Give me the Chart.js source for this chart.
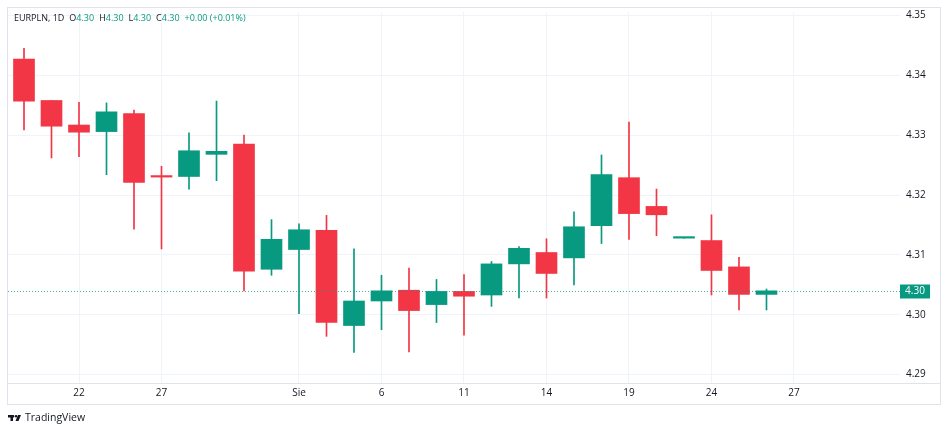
<!DOCTYPE html>
<html>
<head>
<meta charset="utf-8">
<script src="https://cdn.jsdelivr.net/npm/chart.js@4.4.1/dist/chart.umd.min.js"></script>
<style>
  html, body { margin: 0; padding: 0; background: #ffffff; }
  #wrap { width: 948px; height: 430px; }
</style>
</head>
<body>
<div id="wrap"><canvas id="chart" width="948" height="430"></canvas></div>
<script>
// EURPLN 1D candles
const opens  = [4.3427, 4.3358, 4.3317, 4.3306, 4.3336, 4.3232, 4.3231, 4.3268, 4.3285, 4.3076,
                4.3109, 4.3141, 4.2982, 4.3023, 4.3041, 4.3017, 4.3039, 4.3033, 4.3085, 4.3104,
                4.3095, 4.3149, 4.3229, 4.3181, 4.3128, 4.3124, 4.3080, 4.3034];
const highs  = [4.3445, 4.3358, 4.3355, 4.3354, 4.3342, 4.3248, 4.3304, 4.3357, 4.3300, 4.3159,
                4.3152, 4.3166, 4.3110, 4.3066, 4.3078, 4.3059, 4.3067, 4.3089, 4.3114, 4.3127,
                4.3172, 4.3267, 4.3322, 4.3210, 4.3128, 4.3167, 4.3096, 4.3043];
const lows   = [4.3309, 4.3262, 4.3264, 4.3234, 4.3143, 4.3110, 4.3210, 4.3224, 4.3040, 4.3066,
                4.3002, 4.2964, 4.2937, 4.2975, 4.2938, 4.2987, 4.2966, 4.3014, 4.3028, 4.3028,
                4.3050, 4.3119, 4.3126, 4.3132, 4.3128, 4.3033, 4.3008, 4.3008];
const closes = [4.3357, 4.3315, 4.3305, 4.3339, 4.3221, 4.3230, 4.3274, 4.3273, 4.3073, 4.3126,
                4.3142, 4.2987, 4.3023, 4.3040, 4.3007, 4.3039, 4.3031, 4.3085, 4.3111, 4.3069,
                4.3147, 4.3234, 4.3169, 4.3167, 4.3128, 4.3074, 4.3034, 4.3040];

// time axis: candle slot index -> label
const xTickSlots  = [2, 5, 10, 13, 16, 19, 22, 25, 28];
const xTickLabels = ['22', '27', 'Sie', '6', '11', '14', '19', '24', '27'];
const yTicks = [4.29, 4.30, 4.31, 4.32, 4.33, 4.34, 4.35];

const UP = '#089981';
const DOWN = '#F23645';
const TEXT = '#131722';
const FONT = "'Open Sans', 'DejaVu Sans', sans-serif";

const colors = closes.map((c, i) => c >= opens[i] ? UP : DOWN);
const wickData = highs.map((h, i) => ({ x: i, y: [lows[i], h] }));
const bodyData = opens.map((o, i) => ({ x: i, y: [Math.min(o, closes[i]), Math.max(o, closes[i])] }));

const lastClose = closes[closes.length - 1];
const prevClose = closes[closes.length - 2];

const decor = {
  id: 'decor',
  beforeDraw(chart) {
    const ctx = chart.ctx;
    ctx.save();
    ctx.fillStyle = '#ffffff';
    ctx.fillRect(0, 0, chart.width, chart.height);
    ctx.restore();
  },
  afterDatasetsDraw(chart) {
    const ctx = chart.ctx;
    const area = chart.chartArea;
    const y = Math.round(chart.scales.y.getPixelForValue(lastClose)) + 0.5;
    ctx.save();
    ctx.strokeStyle = 'rgba(8, 153, 129, 0.75)';
    ctx.lineWidth = 1;
    ctx.setLineDash([1, 2]);
    ctx.beginPath();
    ctx.moveTo(area.left, y);
    ctx.lineTo(area.right, y);
    ctx.stroke();
    ctx.restore();
  },
  afterDraw(chart) {
    const ctx = chart.ctx;
    const area = chart.chartArea;
    ctx.save();
    // frame and time axis separator
    ctx.strokeStyle = '#e0e3eb';
    ctx.lineWidth = 1;
    ctx.strokeRect(7.5, 7.5, 933, 397);
    ctx.beginPath();
    ctx.moveTo(7.5, area.bottom + 0.5);
    ctx.lineTo(940.5, area.bottom + 0.5);
    ctx.stroke();

    // last price tag
    const y = Math.round(chart.scales.y.getPixelForValue(lastClose)) + 0.5;
    ctx.fillStyle = UP;
    ctx.fillRect(area.right, y - 7, 30, 14);
    ctx.fillStyle = '#ffffff';
    ctx.font = '10px ' + FONT;
    ctx.textAlign = 'center';
    ctx.textBaseline = 'middle';
    ctx.fillText(lastClose.toFixed(2), area.right + 15, y);

    // legend line
    const o = opens[opens.length - 1], h = highs[highs.length - 1];
    const l = lows[lows.length - 1], c = lastClose;
    const chg = c - prevClose;
    const parts = [
      ['EURPLN, 1D', TEXT, 5],
      ['O', TEXT, 0], [o.toFixed(2), UP, 5],
      ['H', TEXT, 0], [h.toFixed(2), UP, 5],
      ['L', TEXT, 0], [l.toFixed(2), UP, 5],
      ['C', TEXT, 0], [c.toFixed(2), UP, 5],
      [(chg >= 0 ? '+' : '') + chg.toFixed(2) + ' (+' + (chg / prevClose * 100).toFixed(2) + '%)', UP, 0]
    ];
    ctx.textAlign = 'left';
    ctx.font = '9px ' + FONT;
    let x = 14;
    parts.forEach(([t, col, gap]) => {
      ctx.fillStyle = col;
      ctx.fillText(t, x, 18.5);
      x += ctx.measureText(t).width + gap;
    });

    // TradingView mark
    ctx.fillStyle = TEXT;
    ctx.fillRect(8, 415, 6, 2.5);
    ctx.fillRect(10.5, 415, 2.5, 6);
    ctx.beginPath();
    ctx.arc(16, 416.3, 1.3, 0, Math.PI * 2);
    ctx.fill();
    ctx.beginPath();
    ctx.moveTo(18, 415); ctx.lineTo(21, 415); ctx.lineTo(18.5, 421); ctx.lineTo(15.5, 421);
    ctx.closePath();
    ctx.fill();
    ctx.font = '10.5px ' + FONT;
    ctx.fillText('TradingView', 25, 418);
    ctx.restore();
  }
};

new Chart(document.getElementById('chart'), {
  type: 'bar',
  data: {
    datasets: [
      {
        label: 'body',
        data: bodyData,
        backgroundColor: colors,
        barThickness: 21,
        minBarLength: 1.5,
        grouped: false,
        order: 0
      },
      {
        label: 'wick',
        data: wickData,
        backgroundColor: colors,
        barThickness: 1,
        grouped: false,
        order: 1
      }
    ]
  },
  options: {
    responsive: false,
    animation: false,
    events: [],
    layout: { padding: { left: 8, top: 8, right: 8, bottom: 26 } },
    plugins: {
      legend: { display: false },
      tooltip: { enabled: false }
    },
    scales: {
      x: {
        type: 'linear',
        min: -0.582,
        max: 31.855,
        offset: false,
        afterBuildTicks: (s) => { s.ticks = xTickSlots.map(v => ({ value: v })); },
        afterFit: (s) => { s.height = 21; },
        ticks: {
          autoSkip: false,
          maxRotation: 0,
          padding: 4,
          color: TEXT,
          font: { family: FONT, size: 10 },
          callback: (v) => xTickLabels[xTickSlots.indexOf(v)]
        },
        grid: { color: '#f0f3fa', drawTicks: false, offset: false },
        border: { display: false }
      },
      y: {
        type: 'linear',
        position: 'right',
        min: 4.2886,
        max: 4.35058,
        afterBuildTicks: (s) => { s.ticks = yTicks.map(v => ({ value: v })); },
        afterFit: (s) => { s.width = 40; },
        ticks: {
          padding: 6,
          color: TEXT,
          font: { family: FONT, size: 10 },
          callback: (v) => v.toFixed(2)
        },
        grid: { color: '#f0f3fa', drawTicks: false },
        border: { display: false }
      }
    }
  },
  plugins: [decor]
});
</script>
</body>
</html>
